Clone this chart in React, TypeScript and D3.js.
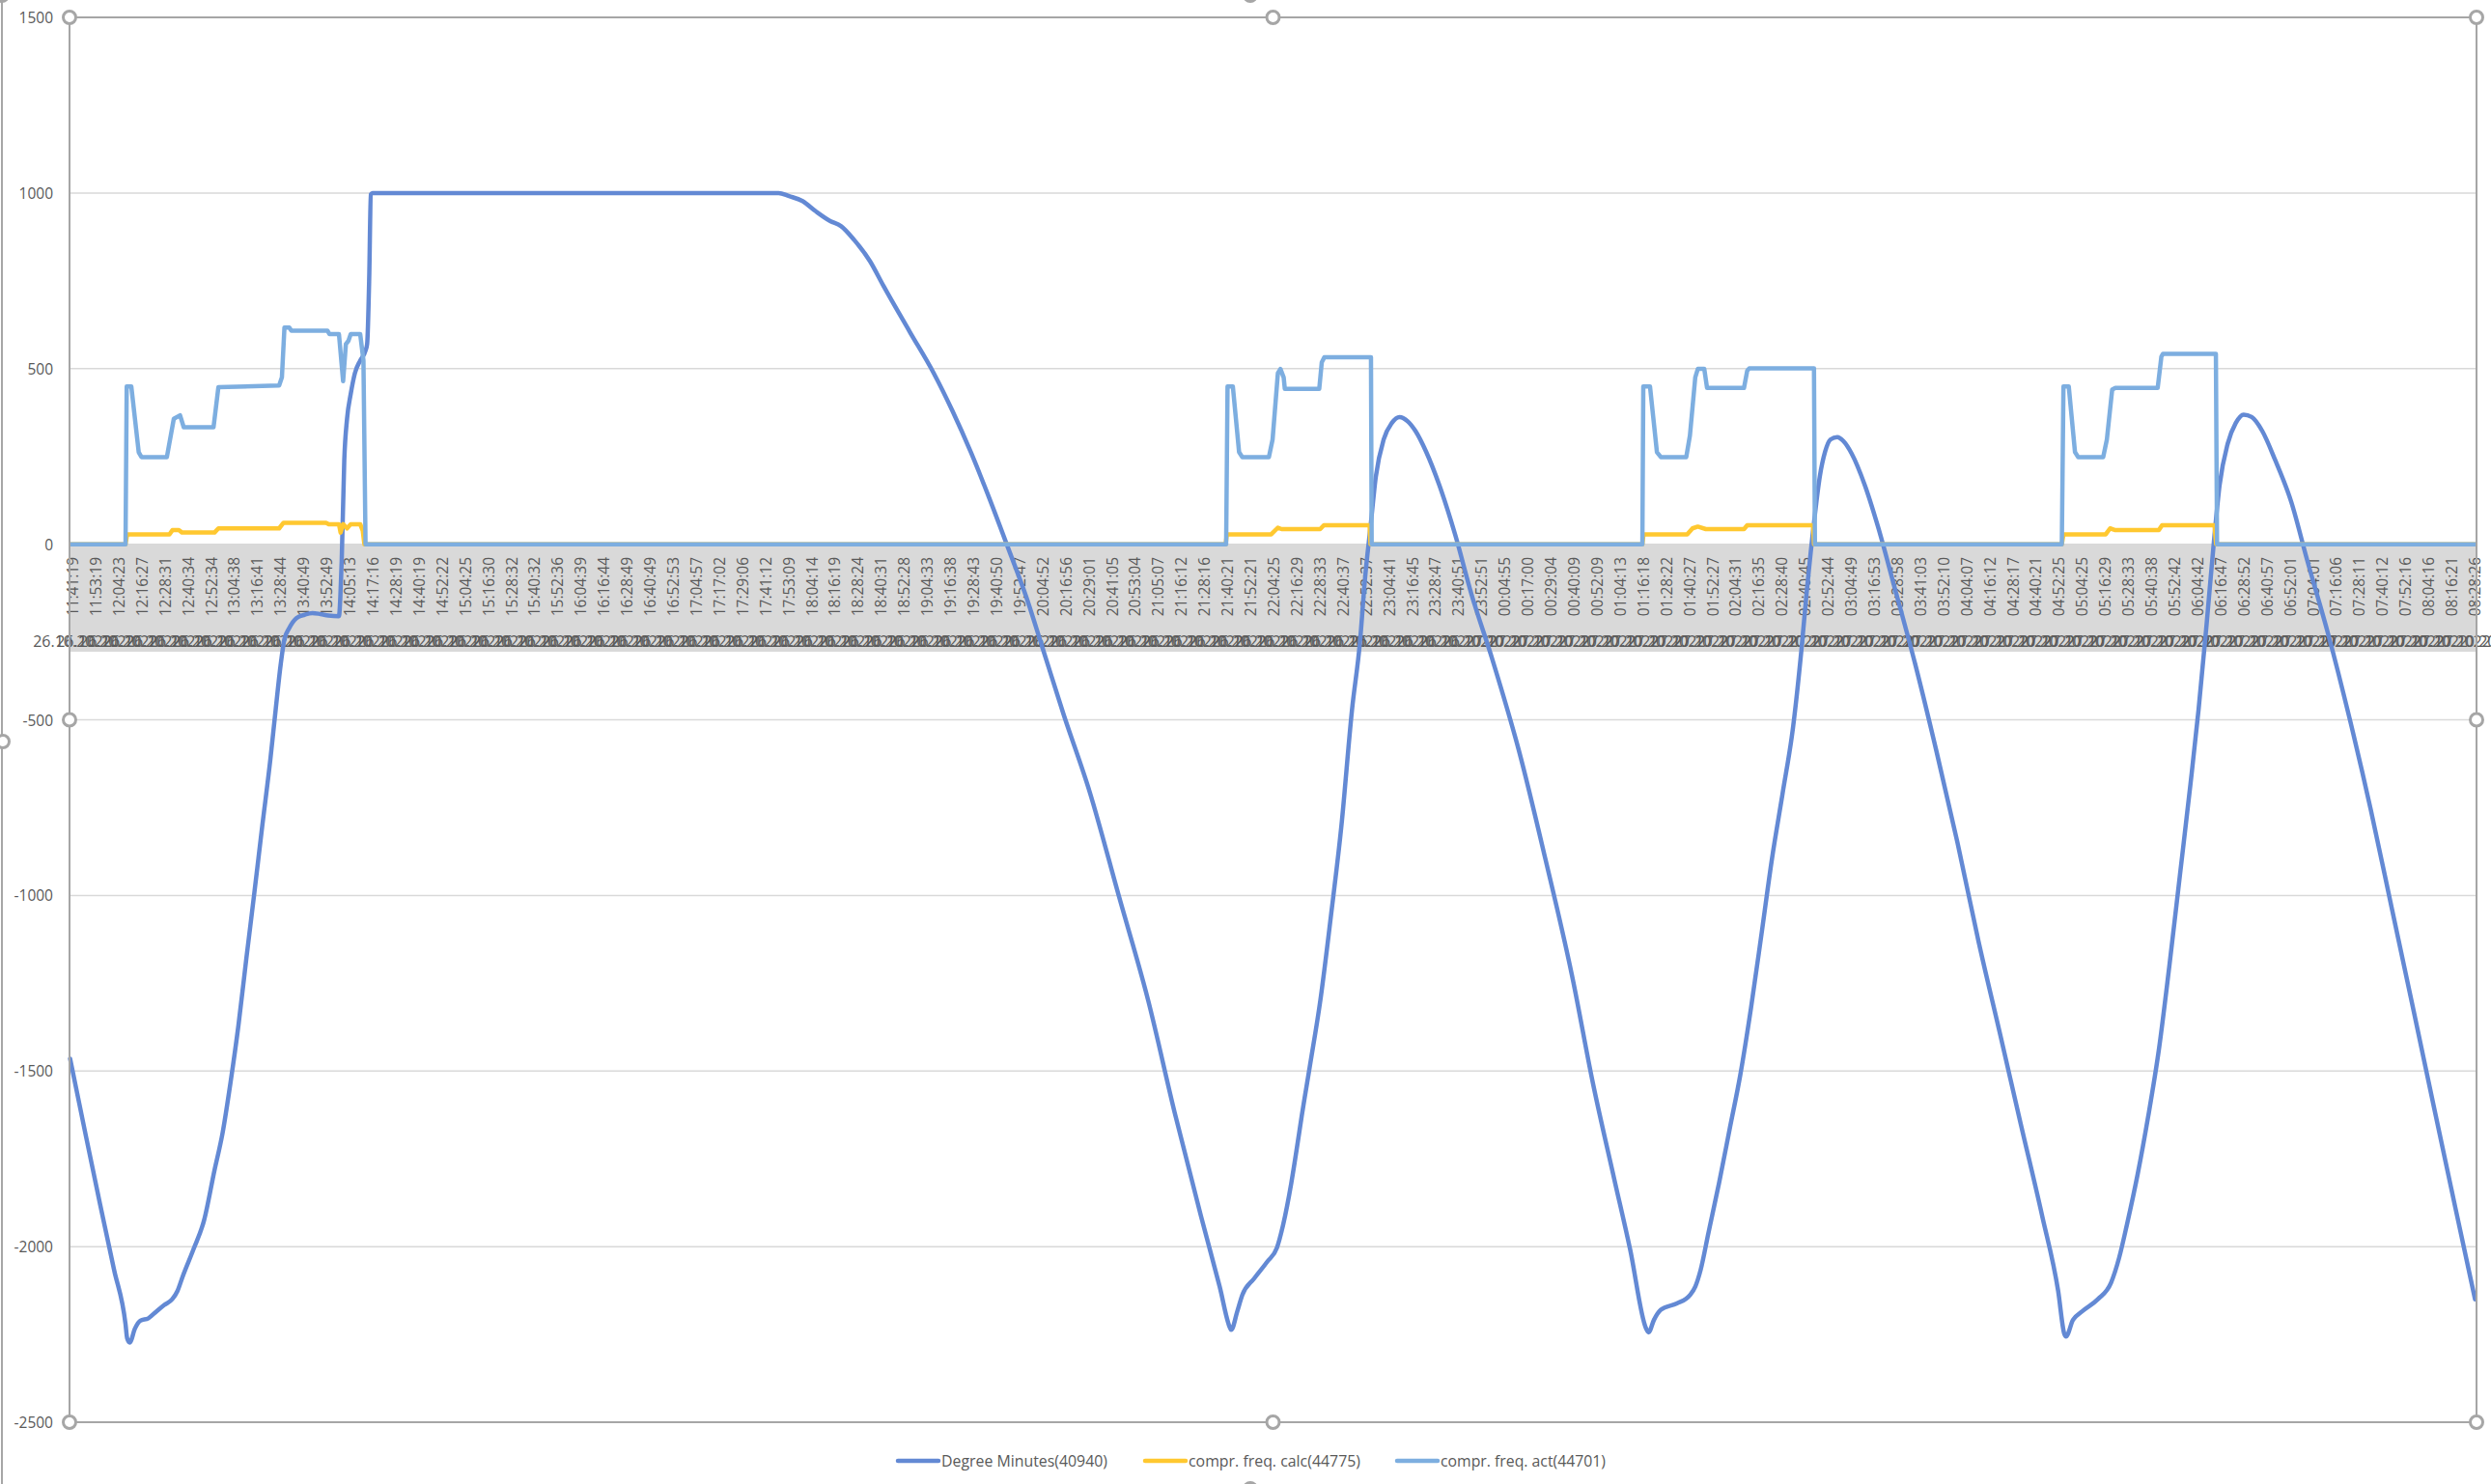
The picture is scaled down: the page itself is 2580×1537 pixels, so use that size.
import React from "react";
import * as d3 from "d3";

// ---------- data ----------
const categoryLabels: string[] = [
  "26.10.2022 11:41:19", "26.10.2022 11:53:19", "26.10.2022 12:04:23", "26.10.2022 12:16:27", "26.10.2022 12:28:31",
  "26.10.2022 12:40:34", "26.10.2022 12:52:34", "26.10.2022 13:04:38", "26.10.2022 13:16:41", "26.10.2022 13:28:44",
  "26.10.2022 13:40:49", "26.10.2022 13:52:49", "26.10.2022 14:05:13", "26.10.2022 14:17:16", "26.10.2022 14:28:19",
  "26.10.2022 14:40:19", "26.10.2022 14:52:22", "26.10.2022 15:04:25", "26.10.2022 15:16:30", "26.10.2022 15:28:32",
  "26.10.2022 15:40:32", "26.10.2022 15:52:36", "26.10.2022 16:04:39", "26.10.2022 16:16:44", "26.10.2022 16:28:49",
  "26.10.2022 16:40:49", "26.10.2022 16:52:53", "26.10.2022 17:04:57", "26.10.2022 17:17:02", "26.10.2022 17:29:06",
  "26.10.2022 17:41:12", "26.10.2022 17:53:09", "26.10.2022 18:04:14", "26.10.2022 18:16:19", "26.10.2022 18:28:24",
  "26.10.2022 18:40:31", "26.10.2022 18:52:28", "26.10.2022 19:04:33", "26.10.2022 19:16:38", "26.10.2022 19:28:43",
  "26.10.2022 19:40:50", "26.10.2022 19:52:47", "26.10.2022 20:04:52", "26.10.2022 20:16:56", "26.10.2022 20:29:01",
  "26.10.2022 20:41:05", "26.10.2022 20:53:04", "26.10.2022 21:05:07", "26.10.2022 21:16:12", "26.10.2022 21:28:16",
  "26.10.2022 21:40:21", "26.10.2022 21:52:21", "26.10.2022 22:04:25", "26.10.2022 22:16:29", "26.10.2022 22:28:33",
  "26.10.2022 22:40:37", "26.10.2022 22:52:37", "26.10.2022 23:04:41", "26.10.2022 23:16:45", "26.10.2022 23:28:47",
  "26.10.2022 23:40:51", "26.10.2022 23:52:51", "27.10.2022 00:04:55", "27.10.2022 00:17:00", "27.10.2022 00:29:04",
  "27.10.2022 00:40:09", "27.10.2022 00:52:09", "27.10.2022 01:04:13", "27.10.2022 01:16:18", "27.10.2022 01:28:22",
  "27.10.2022 01:40:27", "27.10.2022 01:52:27", "27.10.2022 02:04:31", "27.10.2022 02:16:35", "27.10.2022 02:28:40",
  "27.10.2022 02:40:45", "27.10.2022 02:52:44", "27.10.2022 03:04:49", "27.10.2022 03:16:53", "27.10.2022 03:28:58",
  "27.10.2022 03:41:03", "27.10.2022 03:52:10", "27.10.2022 04:04:07", "27.10.2022 04:16:12", "27.10.2022 04:28:17",
  "27.10.2022 04:40:21", "27.10.2022 04:52:25", "27.10.2022 05:04:25", "27.10.2022 05:16:29", "27.10.2022 05:28:33",
  "27.10.2022 05:40:38", "27.10.2022 05:52:42", "27.10.2022 06:04:42", "27.10.2022 06:16:47", "27.10.2022 06:28:52",
  "27.10.2022 06:40:57", "27.10.2022 06:52:01", "27.10.2022 07:04:01", "27.10.2022 07:16:06", "27.10.2022 07:28:11",
  "27.10.2022 07:40:12", "27.10.2022 07:52:16", "27.10.2022 08:04:16", "27.10.2022 08:16:21", "27.10.2022 08:28:26",
];

const yTicks: number[] = [-2500, -2000, -1500, -1000, -500, 0, 500, 1000, 1500];

const seriesNames: string[] = ["Degree Minutes(40940)", "compr. freq. calc(44775)", "compr. freq. act(44701)"];

// [position along the category labels, value]
const degreeMinutes: [number, number][] = [
  [-0.1, -1465], [0.6, -1690], [1.2, -1880], [1.8, -2065], [2.3, -2221], [2.37, -2261], [2.48, -2273],
  [2.71, -2233], [2.94, -2211], [3.29, -2204],
  [3.63, -2185], [3.98, -2166], [4.32, -2150], [4.55, -2126], [4.78, -2084], [5.24, -2008], [5.7, -1925],
  [6.15, -1783], [6.5, -1677], [6.84, -1535], [7.19, -1369], [7.53, -1180], [7.88, -991], [8.22, -802],
  [8.57, -613], [8.8, -471], [9.02, -341], [9.18, -270], [9.37, -241], [9.71, -210], [10.05, -201],
  [10.39, -196], [10.74, -199], [11.08, -203], [11.54, -205], [11.6, -150], [11.66, -45], [11.77, 239],
  [11.89, 357], [12.05, 428], [12.23, 487], [12.46, 523], [12.69, 551], [12.76, 570], [12.85, 759],
  [12.92, 996], [12.99, 1000], [30.57, 1000], [31.03, 991], [31.61, 977], [32.18, 948], [32.81, 920],
  [33.27, 906], [33.85, 866], [34.53, 806], [35.11, 736], [36.25, 605], [37.29, 487], [38.09, 381],
  [38.89, 263], [39.69, 132], [40.5, -9], [41.3, -151], [41.99, -293], [42.9, -482], [44.05, -707],
  [45.31, -1003], [46.57, -1298], [47.72, -1618], [48.86, -1913], [49.67, -2114], [50.13, -2233],
  [50.17, -2237], [50.43, -2185], [50.65, -2138], [51.16, -2091], [51.73, -2043], [52.15, -2003],
  [52.42, -1937], [52.77, -1819], [53.11, -1677], [53.22, -1629], [53.57, -1488], [54.03, -1298],
  [54.48, -1062], [54.94, -802], [55.4, -471], [55.74, -281], [55.97, -92], [56.2, 50], [56.43, 192],
  [56.77, 298], [57.12, 345], [57.46, 362], [57.81, 350], [58.15, 322], [58.61, 263], [59.18, 168],
  [59.87, 26], [60.56, -140], [61.48, -329], [62.63, -589], [63.77, -896], [64.92, -1227], [65.83, -1535],
  [66.75, -1807], [67.44, -2008], [68.13, -2233], [68.24, -2244], [68.47, -2209], [68.77, -2180],
  [69.46, -2162], [70.03, -2138], [70.26, -2114], [70.49, -2067], [70.83, -1961], [71.29, -1819],
  [71.75, -1665], [72.21, -1511], [72.67, -1322], [73.13, -1109], [73.58, -896], [74.04, -710],
  [74.5, -518], [74.85, -305], [75.08, -140], [75.42, 73], [75.65, 192], [75.88, 263], [76.11, 298],
  [76.41, 305], [76.68, 293], [77.03, 258], [77.6, 168], [78.17, 50], [78.86, -116], [79.78, -341],
  [80.7, -589], [81.61, -849], [82.53, -1133], [83.45, -1393], [84.36, -1653], [85.28, -1913],
  [85.97, -2126], [86.24, -2249], [86.31, -2256], [86.61, -2209], [87.0, -2185], [87.69, -2150],
  [88.26, -2103], [88.61, -2032], [88.95, -1937], [89.41, -1795], [89.87, -1629], [90.33, -1440],
  [90.78, -1204], [91.24, -944], [91.7, -683], [92.05, -471], [92.39, -234], [92.74, 26], [92.96, 168],
  [93.31, 286], [93.66, 345], [94.0, 369], [94.35, 362], [94.81, 322], [95.37, 239], [96.06, 121],
  [96.75, -45], [97.67, -258], [98.58, -494], [99.5, -754], [100.42, -1038], [101.34, -1322],
  [102.25, -1606], [103.17, -1890], [104.02, -2150],
];

const comprFreqCalc: [number, number][] = [
  [-0.12, 0], [2.3, 0], [2.37, 28], [4.2, 28], [4.33, 40], [4.61, 40], [4.75, 33], [6.15, 33], [6.32, 45],
  [8.95, 45], [9.14, 61], [10.98, 61], [11.1, 57], [11.54, 57], [11.61, 33], [11.72, 57], [11.89, 45],
  [12.05, 57], [12.46, 57], [12.57, 38], [12.64, 0],
  [49.93, 0], [49.98, 28], [51.9, 28], [52.19, 47], [52.35, 43], [54.02, 43], [54.18, 54], [56.16, 54], [56.2, 0],
  [67.97, 0], [68.02, 28], [69.91, 28], [70.14, 45], [70.37, 50], [70.72, 43], [72.37, 43], [72.51, 54],
  [75.36, 54], [75.4, 0],
  [86.13, 0], [86.2, 28], [88.03, 28], [88.22, 45], [88.45, 40], [90.33, 40], [90.47, 54], [92.74, 54],
  [92.81, 0], [104.08, 0],
];

const comprFreqAct: [number, number][] = [
  [-0.12, 0], [2.3, 0], [2.35, 449], [2.55, 449], [2.87, 262], [2.99, 248], [4.09, 248], [4.39, 357],
  [4.66, 367], [4.82, 333], [6.11, 333], [6.32, 447], [8.95, 452], [9.07, 475], [9.18, 617], [9.39, 617],
  [9.48, 608], [11.04, 608], [11.13, 598], [11.54, 598], [11.72, 464], [11.84, 570], [11.95, 579],
  [12.05, 598], [12.46, 598], [12.6, 523], [12.69, 0],
  [49.95, 0], [50.01, 449], [50.24, 449], [50.51, 262], [50.65, 248], [51.8, 248], [51.96, 298], [52.19, 487],
  [52.3, 499], [52.44, 475], [52.49, 442], [53.98, 442], [54.09, 518], [54.2, 532], [56.22, 532], [56.25, 0],
  [67.97, 0], [68.01, 449], [68.3, 449], [68.6, 262], [68.77, 248], [69.87, 248], [70.03, 310], [70.26, 475],
  [70.37, 499], [70.65, 499], [70.77, 445], [72.37, 445], [72.51, 494], [72.6, 501], [75.4, 501], [75.44, 0],
  [86.13, 0], [86.2, 449], [86.43, 449], [86.7, 262], [86.84, 248], [87.92, 248], [88.08, 298], [88.31, 440],
  [88.45, 445], [90.28, 445], [90.44, 534], [90.51, 542], [92.8, 542], [92.85, 0], [104.08, 0],
];

// ---------- layout ----------
const W = 2580;
const H = 1537;
const PL = 72;
const PR = 2565;
const PT = 18;
const PB = 1473;
const BAND_BOTTOM = 675;

const COLORS = { dm: "#6389D4", calc: "#FFC830", act: "#7DAEE0" };
const TEXT = "#595959";
const FONT = "'Open Sans', 'Noto Sans', sans-serif";

export default function App() {
  const x = d3.scaleLinear().domain([0, categoryLabels.length - 1]).range([75, 2563]);
  const y = d3.scaleLinear().domain([-2500, 1500]).range([PB, PT]);

  const smooth = d3
    .line<[number, number]>()
    .x((d) => x(d[0]))
    .y((d) => y(d[1]))
    .curve(d3.curveMonotoneX);
  const straight = d3
    .line<[number, number]>()
    .x((d) => x(d[0]))
    .y((d) => y(d[1]));

  const y0 = y(0);
  const handleStroke = "#A6A6A6";

  const plotHandles: [number, number][] = [
    [PL, PT], [(PL + PR) / 2, PT], [PR, PT],
    [PL, (PT + PB) / 2], [PR, (PT + PB) / 2],
    [PL, PB], [(PL + PR) / 2, PB], [PR, PB],
  ];

  const legendItems = [
    { name: seriesNames[0], color: COLORS.dm, x0: 930, len: 172 },
    { name: seriesNames[1], color: COLORS.calc, x0: 1186, len: 178 },
    { name: seriesNames[2], color: COLORS.act, x0: 1447, len: 171 },
  ];

  return (
    <svg
      width={W}
      height={H}
      style={{ position: "absolute", left: 0, top: 0, background: "#fff" }}
      fontFamily={FONT}
    >
      <rect x={0} y={0} width={W} height={H} fill="#fff" />

      {/* gridlines */}
      {yTicks.map((t) => (
        <line key={"g" + t} x1={PL} x2={PR} y1={y(t)} y2={y(t)} stroke="#D9D9D9" strokeWidth={1.5} />
      ))}

      {/* category axis band */}
      <rect x={PL} y={y0} width={PR - PL} height={BAND_BOTTOM - y0} fill="#D9D9D9" />

      {/* time labels */}
      {categoryLabels.map((lab, i) => {
        const time = lab.split(" ")[1];
        return (
          <text
            key={"t" + i}
            transform={`translate(${x(i)},${577}) rotate(-90)`}
            textAnchor="end"
            dominantBaseline="central"
            fontSize={15.5}
            fill={TEXT}
          >
            {time}
          </text>
        );
      })}
      {/* date labels */}
      {categoryLabels.map((lab, i) => {
        const date = lab.split(" ")[0];
        return (
          <text key={"d" + i} x={x(i)} y={670} textAnchor="middle" fontSize={16} fill={TEXT}>
            {date}
          </text>
        );
      })}

      {/* series */}
      <path d={smooth(degreeMinutes) || ""} fill="none" stroke={COLORS.dm} strokeWidth={4.5} strokeLinejoin="round" strokeLinecap="round" />
      <path d={straight(comprFreqCalc) || ""} fill="none" stroke={COLORS.calc} strokeWidth={4.5} strokeLinejoin="round" />
      <path d={straight(comprFreqAct) || ""} fill="none" stroke={COLORS.act} strokeWidth={4.5} strokeLinejoin="round" />

      {/* plot area frame */}
      <rect x={PL} y={PT} width={PR - PL} height={PB - PT} fill="none" stroke={handleStroke} strokeWidth={2} />

      {/* y axis labels */}
      {yTicks.map((t) => (
        <text key={"y" + t} x={55} y={y(t)} textAnchor="end" dominantBaseline="central" fontSize={15.5} fill={TEXT}>
          {t}
        </text>
      ))}

      {/* plot area selection handles */}
      {plotHandles.map(([hx, hy], i) => (
        <circle key={"h" + i} cx={hx} cy={hy} r={6.5} fill="#fff" stroke={handleStroke} strokeWidth={3} />
      ))}

      {/* chart area selection frame */}
      <line x1={2} x2={2} y1={0} y2={H} stroke={handleStroke} strokeWidth={2} />
      {[[2, -5], [3, 768], [1295, -5], [1295, 1542]].map(([hx, hy], i) => (
        <circle key={"c" + i} cx={hx} cy={hy} r={6.5} fill="#fff" stroke={handleStroke} strokeWidth={3} />
      ))}

      {/* legend */}
      {legendItems.map((it) => (
        <g key={it.name}>
          <line x1={it.x0} x2={it.x0 + 42} y1={1513} y2={1513} stroke={it.color} strokeWidth={4.5} strokeLinecap="round" />
          <text
            x={it.x0 + 45}
            y={1513}
            dominantBaseline="central"
            fontSize={16}
            fill={TEXT}
            textLength={it.len}
            lengthAdjust="spacingAndGlyphs"
          >
            {it.name}
          </text>
        </g>
      ))}
    </svg>
  );
}
